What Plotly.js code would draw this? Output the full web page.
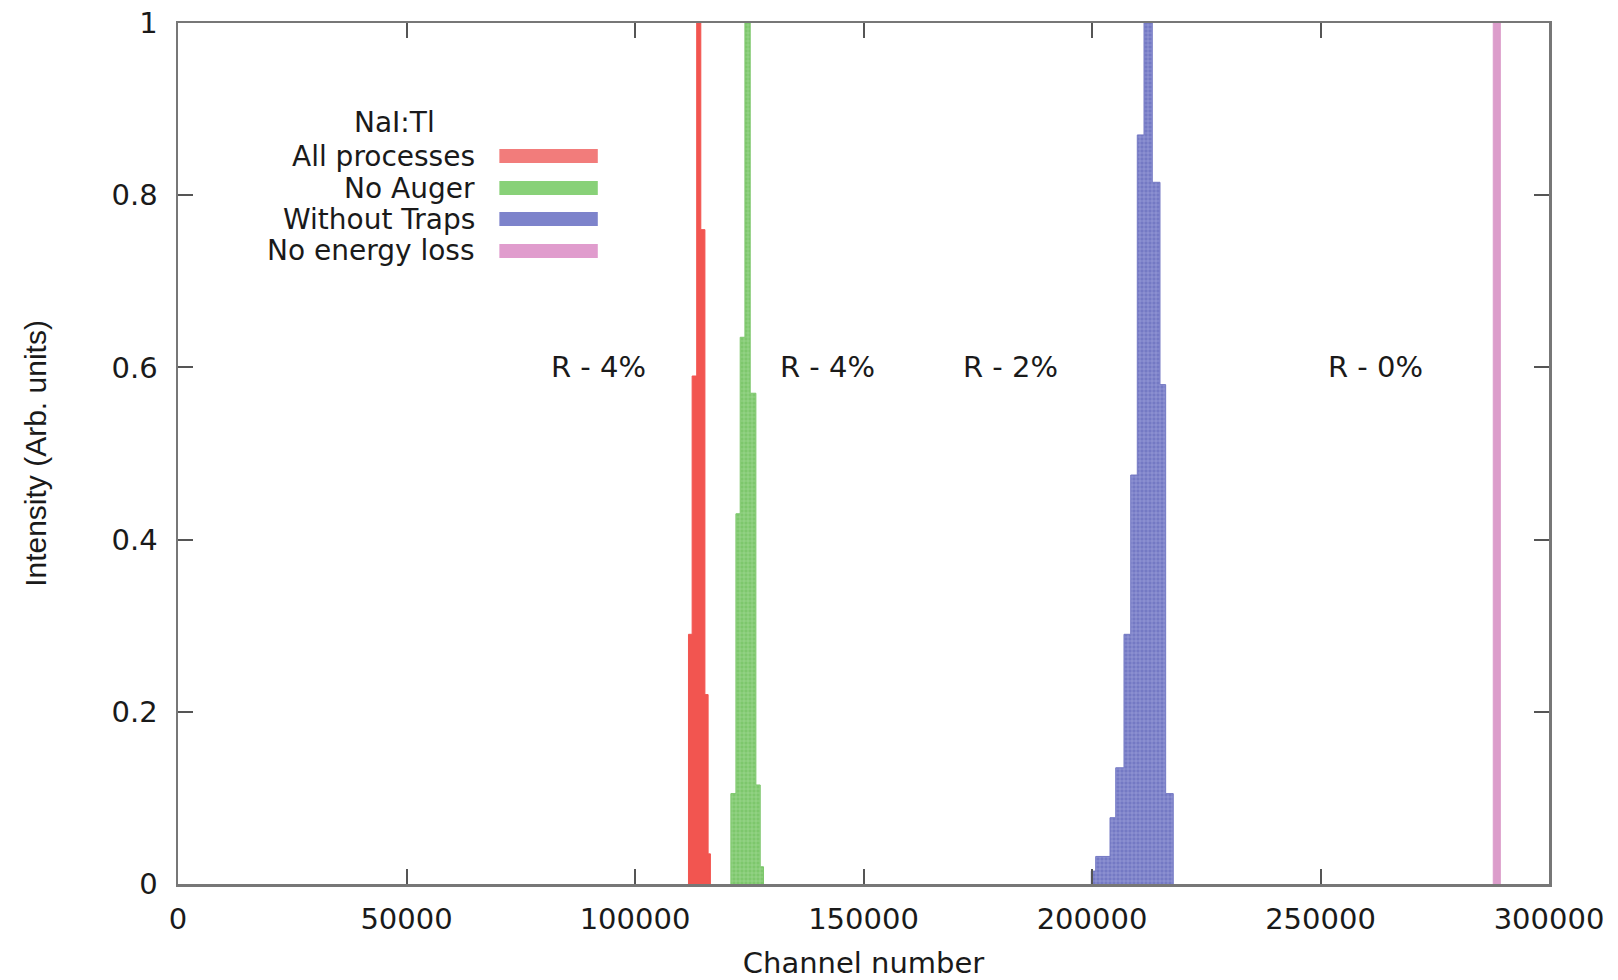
<!DOCTYPE html>
<html>
<head>
<meta charset="utf-8">
<script src="https://cdn.plot.ly/plotly-3.0.1.min.js"></script>
<style>
  html, body { margin: 0; padding: 0; background: #ffffff; }
  #chart { width: 1618px; height: 980px; }
</style>
</head>
<body>
<div id="chart"></div>
<script>
// ---- Data (channel bin edges and normalised intensities) ----
const seriesNames = ['All processes', 'No Auger', 'Without Traps', 'No energy loss'];

const allProcEdges  = [111700, 112500, 113500, 114400, 115300, 116000, 116500];
const allProcValues = [0.29, 0.59, 1.0, 0.76, 0.22, 0.035];

const noAugerEdges  = [120980, 122080, 123020, 124050, 125210, 126450, 127400, 128120];
const noAugerValues = [0.105, 0.43, 0.635, 1.0, 0.57, 0.115, 0.02];

const noTrapsEdges  = [199850, 200810, 203940, 205190, 207000, 208470, 209910, 211380, 213190, 214880, 216120, 217780];
const noTrapsValues = [0.015, 0.032, 0.077, 0.135, 0.29, 0.475, 0.87, 1.0, 0.815, 0.58, 0.105];

const noLossEdges   = [287800, 289350];
const noLossValues  = [1.0];

const legendTitle = 'NaI:Tl';
const resolutionLabels = ['R - 4%', 'R - 4%', 'R - 2%', 'R - 0%'];
const resolutionLabelX = [91960, 142050, 182070, 262120];
const resolutionLabelY = 0.601;

const xTickVals = [0, 50000, 100000, 150000, 200000, 250000, 300000];
const yTickVals = [0, 0.2, 0.4, 0.6, 0.8, 1];

// ---- Styles ----
const barColors    = ['#f25550', '#7dc76c', '#7479c4', '#dc9dcb'];
const meshColors   = ['#f25550', '#a9dc9c', '#a3a7dc', '#dc9dcb'];
const swatchColors = ['#f27c7b', '#88d178', '#7d83cb', '#e09ccd'];
const textFont = 'DejaVu Sans, Liberation Sans, Arial, sans-serif';
const textColor = '#1a1a1a';

function stepTrace(edges, values, i, mesh) {
  const x = [edges[0]].concat(edges);
  const y = [0].concat(values, [0]);
  const t = {
    type: 'scatter',
    mode: 'lines',
    name: seriesNames[i],
    x: x,
    y: y,
    line: { shape: 'hv', color: barColors[i], width: 1 },
    fill: 'tozeroy',
    fillcolor: barColors[i],
    hoverinfo: 'x+y+name',
    showlegend: false
  };
  if (mesh) {
    t.fillpattern = { shape: '+', bgcolor: barColors[i], fgcolor: meshColors[i], size: 4, solidity: 0.25 };
  }
  return t;
}

const traces = [
  stepTrace(allProcEdges, allProcValues, 0, false),
  stepTrace(noAugerEdges, noAugerValues, 1, true),
  stepTrace(noTrapsEdges, noTrapsValues, 2, true),
  stepTrace(noLossEdges, noLossValues, 3, false)
];

// ---- Manual gnuplot-style key (text right-aligned, sample to the right) ----
const keyRowsY = [0.8455, 0.8083, 0.7723, 0.7353];
const annotations = [];
const shapes = [];
annotations.push({
  xref: 'paper', yref: 'paper', x: 0.1579, y: 0.884,
  xanchor: 'center', yanchor: 'middle', showarrow: false, borderpad: 0,
  text: legendTitle, font: { family: textFont, size: 28, color: textColor }
});
seriesNames.forEach((nm, i) => {
  annotations.push({
    xref: 'paper', yref: 'paper', x: 0.2176, y: keyRowsY[i],
    xanchor: 'right', yanchor: 'middle', showarrow: false, borderpad: 0,
    text: nm, font: { family: textFont, size: 28, color: textColor }
  });
  shapes.push({
    type: 'line', xref: 'paper', yref: 'paper',
    x0: 0.2344, x1: 0.3062, y0: keyRowsY[i], y1: keyRowsY[i],
    line: { color: swatchColors[i], width: 14 }
  });
});
resolutionLabels.forEach((lab, i) => {
  annotations.push({
    xref: 'x', yref: 'y', x: resolutionLabelX[i], y: resolutionLabelY,
    xanchor: 'center', yanchor: 'middle', showarrow: false,
    text: lab, font: { family: textFont, size: 29, color: textColor }
  });
});

const axisCommon = {
  showline: true, linecolor: '#777777', linewidth: 2.5,
  mirror: 'allticks', ticks: 'inside', ticklen: 15, tickwidth: 2, tickcolor: '#555555',
  showgrid: false, zeroline: false,
  tickfont: { family: textFont, size: 29, color: textColor }
};

const layout = {
  width: 1618, height: 980,
  paper_bgcolor: '#ffffff', plot_bgcolor: '#ffffff',
  margin: { l: 178, r: 69, t: 23, b: 96, pad: 0 },
  showlegend: false,
  xaxis: Object.assign({}, axisCommon, {
    range: [0, 300000], tickvals: xTickVals, tickformat: 'd',
    ticklabelstandoff: 8,
    title: { text: 'Channel number', standoff: 18,
             font: { family: textFont, size: 29, color: textColor } }
  }),
  yaxis: Object.assign({}, axisCommon, {
    range: [0, 1], tickvals: yTickVals,
    ticklabelstandoff: 12,
    title: { text: 'Intensity (Arb. units)', standoff: 56,
             font: { family: 'Liberation Sans, Arial, sans-serif', size: 30, color: textColor } }
  }),
  annotations: annotations,
  shapes: shapes
};

Plotly.newPlot('chart', traces, layout, { staticPlot: true, displayModeBar: false });
</script>
</body>
</html>
